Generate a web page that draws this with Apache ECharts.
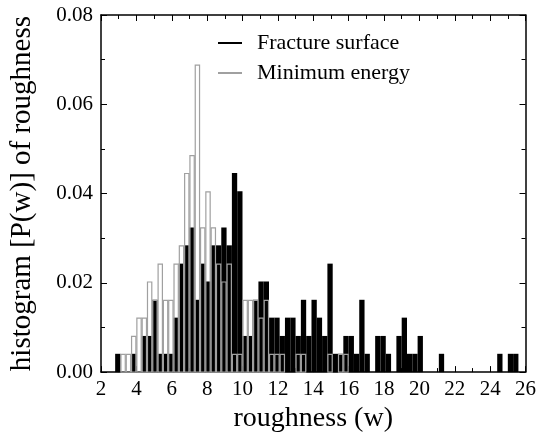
<!DOCTYPE html>
<html>
<head>
<meta charset="utf-8">
<script src="https://cdn.jsdelivr.net/npm/echarts@6/dist/echarts.min.js"></script>
<style>html,body{margin:0;padding:0;background:#fff}#c{width:539px;height:438px}</style>
</head>
<body>
<div id="c"></div>
<script>
// Histogram bin lower edges (roughness w), bin width 0.3
const binLeft = [2.8,3.1,3.4,3.7,4.0,4.3,4.6,4.9,5.2,5.5,5.8,6.1,6.4,6.7,7.0,7.3,7.6,7.9,8.2,8.5,
  8.8,9.1,9.4,9.7,10.0,10.3,10.6,10.9,11.2,11.5,11.8,12.1,12.4,12.7,13.0,13.3,13.6,13.9,14.2,14.5,
  14.8,15.1,15.4,15.7,16.0,16.3,16.6,16.9,17.2,17.5,17.8,18.1,18.4,18.7,19.0,19.3,19.6,19.9,20.2,20.5,
  20.8,21.1,21.4,21.7,22.0,22.3,22.6,22.9,23.2,23.5,23.8,24.1,24.4,24.7,25.0,25.3];
const BIN_WIDTH = 0.3;

// P(w) for the fracture surface
const fractureSurface = [0.0041,0,0,0.0041,0,0.0081,0.0081,0.0162,0.0041,0.0041,
  0.0041,0.0122,0.0243,0.0284,0.0324,0.0162,0.0243,0.0203,0.0284,0.0284,
  0.0324,0.0284,0.0446,0.0405,0.0081,0.0081,0.0162,0.0203,0.0203,0.0122,
  0.0122,0.0081,0.0122,0.0122,0.0081,0.0162,0.0081,0.0162,0.0122,0.0081,
  0.0243,0.0041,0.0041,0.0081,0.0081,0.0041,0.0162,0.0041,0,0.0081,
  0.0081,0.0041,0,0.0081,0.0122,0.0041,0.0041,0.0081,0,0,
  0,0.0041,0,0,0,0,0,0,0,0,
  0,0,0.0041,0,0.0041,0.0041];

// P(w) for the minimum energy surface
const minimumEnergy = [0,0.0041,0.0041,0.0081,0.0122,0.0122,0.0203,0.0162,0.0243,0.0162,
  0.0162,0.0243,0.0284,0.0446,0.0486,0.0689,0.0324,0.0405,0.0324,0.0243,
  0.0203,0.0243,0.0041,0.0041,0.0162,0.0162,0.0162,0.0122,0.0162,0.0041,
  0.0041,0.0041,0,0,0.0041,0.0041,0,0,0,0,
  0.0041,0,0.0041,0.0041,0,0,0,0,0,0,
  0,0,0,0,0,0,0,0,0,0,
  0,0,0,0,0,0,0,0,0,0,
  0,0,0,0,0,0];

const xTicks = {min: 2, max: 26, step: 2};
const yTicks = {min: 0, max: 0.08, step: 0.02};

const FONT = "'Liberation Serif','DejaVu Serif',serif";
const GRAY = '#a0a0a0';

function makeRender(kind) {
  return function (params, api) {
    const x0 = api.value(0), v = api.value(1);
    if (!v) return null;
    const p0 = api.coord([x0, 0]);
    const p1 = api.coord([x0 + BIN_WIDTH, v]);
    const shape = {x: p0[0], y: p1[1], width: p1[0] - p0[0], height: p0[1] - p1[1]};
    if (kind === 'fill') {
      return {type: 'rect', shape: shape, style: {fill: '#000', stroke: null}};
    }
    return {type: 'rect', shape: {x: shape.x + 0.5, y: shape.y + 0.5, width: shape.width - 1, height: shape.height - 0.5},
      style: {fill: null, stroke: GRAY, lineWidth: 1.2}};
  };
}

const axisCommon = {
  axisLine: {show: true, onZero: false, lineStyle: {color: '#000', width: 1.5}},
  axisTick: {show: true, inside: true, length: 6, lineStyle: {color: '#000', width: 1}},
  minorTick: {show: true, splitNumber: 2, length: 4, lineStyle: {color: '#000', width: 1}},
  splitLine: {show: false},
  minorSplitLine: {show: false}
};

const chart = echarts.init(document.getElementById('c'), null, {renderer: 'canvas'});
chart.setOption({
  animation: false,
  backgroundColor: '#fff',
  grid: {left: 97, right: 11, top: 15, bottom: 64},
  legend: {
    orient: 'vertical', left: 218, top: 32, itemGap: 8, padding: 0,
    icon: 'rect', itemWidth: 24, itemHeight: 2,
    textStyle: {fontFamily: FONT, fontSize: 22, color: '#000', padding: [0, 0, 0, 10]},
    data: [
      {name: 'Fracture surface', itemStyle: {color: '#000'}},
      {name: 'Minimum energy', itemStyle: {color: GRAY}}
    ]
  },
  xAxis: [
    Object.assign({}, axisCommon, {
      type: 'value', position: 'bottom', min: xTicks.min, max: xTicks.max, interval: xTicks.step,
      axisLabel: {fontFamily: FONT, fontSize: 21, color: '#000', margin: 7},
      name: 'roughness (w)', nameLocation: 'middle', nameGap: 31,
      nameTextStyle: {fontFamily: FONT, fontSize: 28, color: '#000'}
    }),
    Object.assign({}, axisCommon, {
      type: 'value', position: 'top', min: xTicks.min, max: xTicks.max, interval: xTicks.step,
      axisLabel: {show: false}
    })
  ],
  yAxis: [
    Object.assign({}, axisCommon, {
      type: 'value', position: 'left', min: yTicks.min, max: yTicks.max, interval: yTicks.step,
      axisLabel: {fontFamily: FONT, fontSize: 21, color: '#000', margin: 8,
        formatter: function (v) { return v.toFixed(2); }},
      name: 'histogram [P(w)] of roughness', nameLocation: 'middle', nameGap: 64,
      nameTextStyle: {fontFamily: FONT, fontSize: 29, color: '#000'}
    }),
    Object.assign({}, axisCommon, {
      type: 'value', position: 'right', min: yTicks.min, max: yTicks.max, interval: yTicks.step,
      axisLabel: {show: false}
    })
  ],
  series: [
    {
      name: 'Fracture surface', type: 'custom', xAxisIndex: 0, yAxisIndex: 0,
      itemStyle: {color: '#000'},
      renderItem: makeRender('fill'),
      data: binLeft.map((x, i) => [x, fractureSurface[i]]),
      z: 2
    },
    {
      name: 'Minimum energy', type: 'custom', xAxisIndex: 0, yAxisIndex: 0,
      itemStyle: {color: GRAY},
      renderItem: makeRender('outline'),
      data: binLeft.map((x, i) => [x, minimumEnergy[i]]),
      z: 3
    }
  ]
});
</script>
</body>
</html>
